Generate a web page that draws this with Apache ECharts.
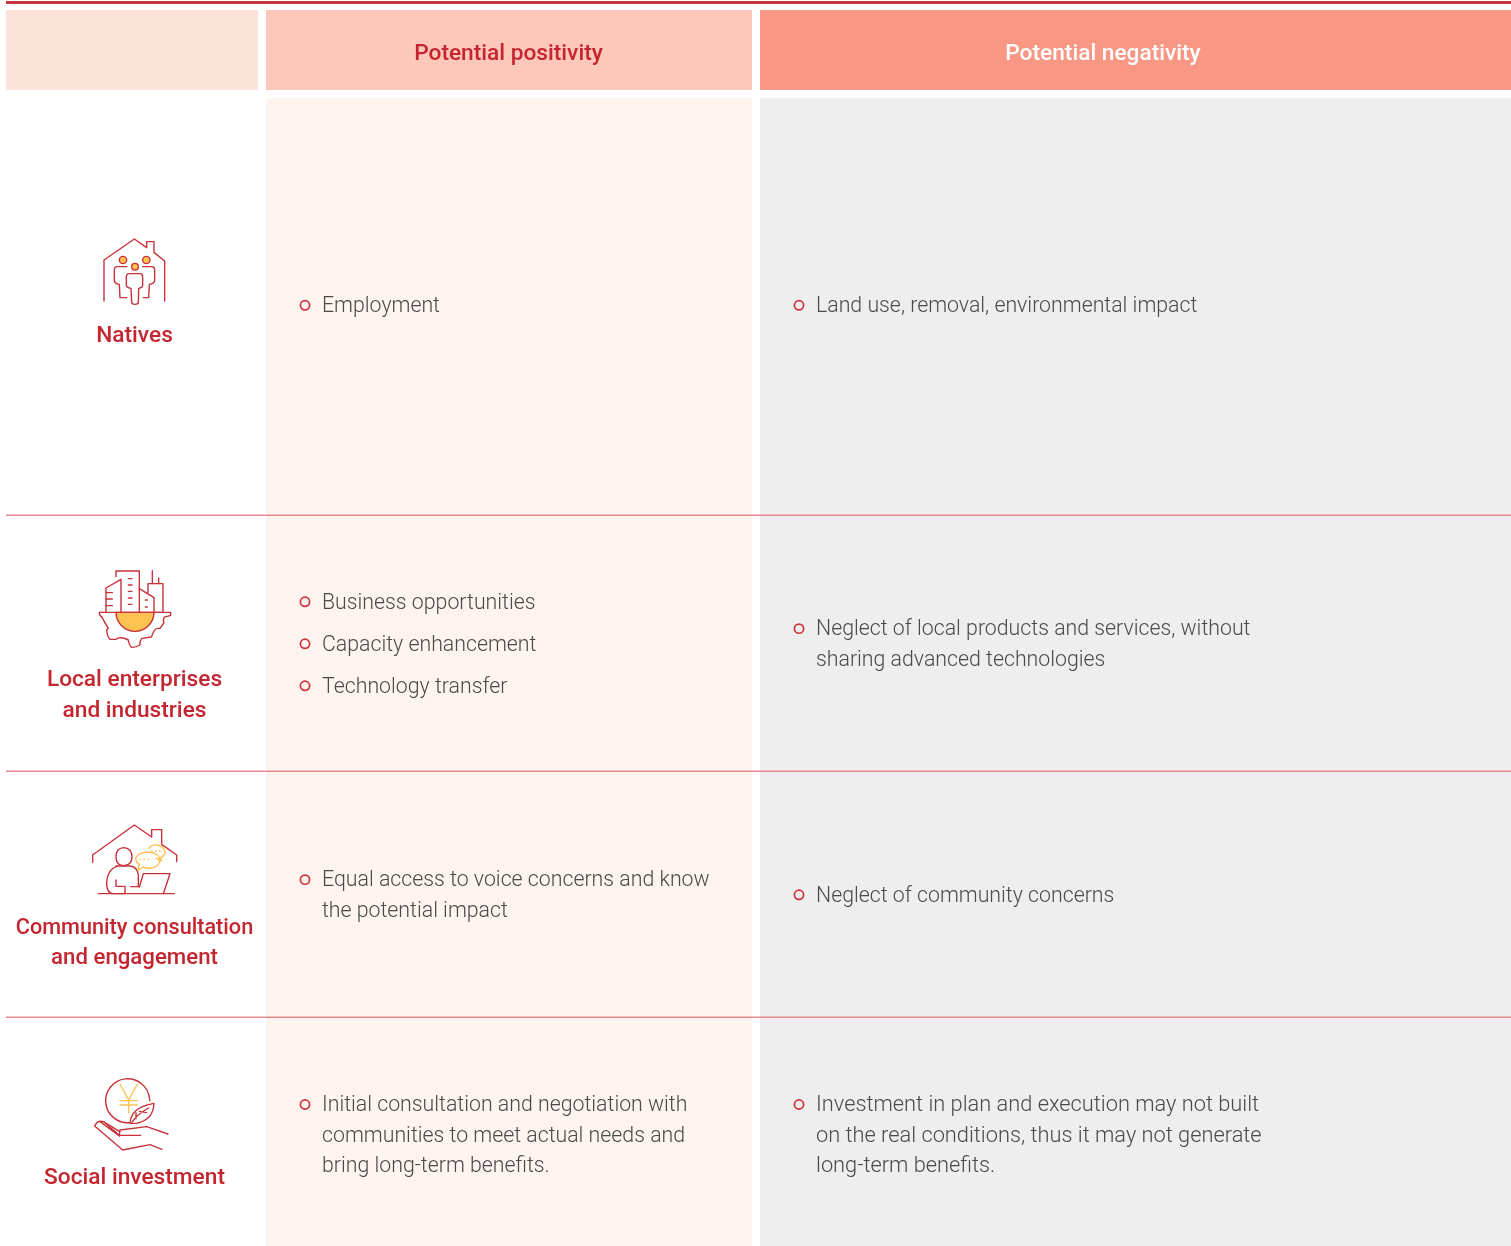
<!DOCTYPE html>
<html><head><meta charset="utf-8">
<style>html,body{margin:0;padding:0;background:#fff}#c{width:1511px;height:1246px}</style>
<script src="https://cdn.jsdelivr.net/npm/echarts@6/dist/echarts.min.js"></script>
</head><body><div id="c"></div>
<script>
const headers = ['', 'Potential positivity', 'Potential negativity'];
const groupLabels = [['Natives'], ['Local enterprises', 'and industries'], ['Community consultation', 'and engagement'], ['Social investment']];
const positivity = [
  [['Employment']],
  [['Business opportunities'], ['Capacity enhancement'], ['Technology transfer']],
  [['Equal access to voice concerns and know', 'the potential impact']],
  [['Initial consultation and negotiation with', 'communities to meet actual needs and', 'bring long-term benefits.']]
];
const negativity = [
  [['Land use, removal, environmental impact']],
  [['Neglect of local products and services, without', 'sharing advanced technologies']],
  [['Neglect of community concerns']],
  [['Investment in plan and execution may not built', 'on the real conditions, thus it may not generate', 'long-term benefits.']]
];

const RED = '#c8323a', YEL = '#fdc24f', LINE = '#e58a8e';
const rowCenters = [305, 643.5, 894.5, 1134.5];
const labelY = [[336], [680, 711], [928, 958], [1178]];
const labelScale = [[1], [1], [0.955, 0.98], [1]];
const negFont = [21.3, 21.3, 21.3, 21.8];
const rowLines = [514.4, 770.4, 1016.4];
const els = [];
const rect = (x, y, w, h, fill) => els.push({type:'rect', shape:{x, y, width:w, height:h}, style:{fill}, silent:true});
const text = (t, x, y, o, sx) => els.push({type:'text', x, y, scaleX:sx || 1, silent:true, style:Object.assign({text:t, fontFamily:'Roboto', verticalAlign:'middle'}, o)});

rect(6, 1, 1505, 3, RED);
rect(6, 10, 252, 80, '#fde2da');
rect(266, 10, 486, 80, '#fdc8ba');
rect(760, 10, 751, 80, '#f89784');
rect(266, 98, 486, 1148, '#fdf3ef');
rect(760, 98, 751, 1148, '#eeeeee');
rowLines.forEach(y => rect(6, y, 1505, 1.6, LINE));

const HF = {fontSize:22.7, fontWeight:500, align:'center'};
text(headers[1], 508.5, 54, Object.assign({fill:'#c5252f'}, HF));
text(headers[2], 1103, 54, Object.assign({fill:'#ffffff'}, HF));

groupLabels.forEach((ls, i) => ls.forEach((l, j) =>
  text(l, 134.5, labelY[i][j], {fontSize:22.7, fontWeight:500, align:'center', fill:'#c5252f'}, labelScale[i][j])));

function column(items, cx, tx, center, fontSize) {
  const LH = 30.3, GAP = 42;
  const multi = items.length > 1;
  let y = multi ? center - GAP * (items.length - 1) / 2 : center - LH * (items[0].length - 1) / 2;
  items.forEach(lines => {
    els.push({type:'circle', silent:true, shape:{cx, cy:y + 0.3, r:4.6}, style:{fill:'none', stroke:'#d0323c', lineWidth:1.7}});
    lines.forEach((l, k) => text(l, tx, y + 1.8 + k * LH, {fontSize, fontWeight:300, fill:'#4a4a4a'}));
    y += GAP;
  });
}
rowCenters.forEach((c, i) => {
  column(positivity[i], 305, 322, c, 21.3);
  column(negativity[i], 799, 816, c, negFont[i]);
});

// Icons, drawn in 3x local coordinates of a small crop box
const iconParts = [];
function icon(ox, oy, parts) {
  parts.forEach(p => iconParts.push({
    type:'path', x:ox, y:oy, scaleX:1/3, scaleY:1/3, silent:true,
    shape:{pathData:p.d},
    style:{fill:p.fill || 'none', stroke:p.stroke || RED, lineWidth:p.w || 4.2, lineJoin:'round', lineCap:'round'}
  }));
}
const circ = (cx, cy, r) => `M${cx-r} ${cy}A${r} ${r} 0 1 1 ${cx+r} ${cy}A${r} ${r} 0 1 1 ${cx-r} ${cy}Z`;
icon(80, 225, [
  {d:'M72 228V105L163 42L200 68V50H222V82L254 108V228'},
  {d:'M140 125H112Q103 125 103 135V165Q103 176 118 178L120 218H140'},
  {d:'M188 125H216Q224 125 224 135V165Q224 176 208 178L206 218H190'},
  {d:'M148 146H180Q188 146 188 156V180Q188 188 176 190L175 232Q175 238 165 238Q155 238 155 232L153 190Q139 188 139 180V156Q139 146 148 146Z'},
  {d:circ(129,105,11), fill:YEL},
  {d:circ(199,105,11), fill:YEL},
  {d:circ(165,125,10), fill:YEL}
]);
icon(80, 560, [
  {d:'M108 157A57 57 0 0 0 222 157Z', fill:YEL},
  {d:'M58 157H272V166Q262 170 255 170Q247 178 252 188L240 205L233 205Q222 207 218 222L214 231L185 235Q178 245 180 255Q170 262 155 262Q148 258 145 240Q120 228 108 238L90 238Q82 232 80 210L85 205Q75 190 65 170Q58 168 58 157Z'},
  {d:'M78 157V84L123 58V157'},
  {d:'M108 50V33H178V157'},
  {d:'M178 86L222 113V157'},
  {d:'M204 98V71H249V157H222'},
  {d:'M217 71V32M236 71V54'},
  {d:'M78 98H97M78 117H97M78 137H97M145 56H156M145 75H156M145 94H156M145 114H156M145 133H156M196 120H202M196 141H202'}
]);
icon(80, 815, [
  {d:'M38 142V120L163 30L215 66V44H245V88L290 120V140'},
  {d:'M55 236H283'},
  {d:'M130 98Q108 100 108 125Q108 150 130 152Q156 150 156 125Q156 100 130 98Z'},
  {d:'M108 153H150Q172 155 175 180V215H152M120 152Q82 158 80 205Q80 236 100 236H135V214H108V195'},
  {d:'M190 176H270L250 236M190 176L178 216'},
  {d:'M205 112A32 24 0 1 1 190 156L174 166L178 148Q160 135 172 122Q185 110 205 112Z', stroke:YEL},
  {d:'M207 100Q215 88 230 90Q252 92 255 112Q254 122 242 128L244 138L228 130', stroke:YEL},
  {d:'M180 133h2M192 133h2M204 133h2M214 108h2M226 108h2M238 108h2', stroke:YEL}
]);
icon(80, 1070, [
  {d:'M150 158A66 66 0 1 1 209 92'},
  {d:'M120 42L146 90L172 42M146 90V128M120 92H172M120 105H172', stroke:YEL},
  {d:'M150 160Q152 112 222 100Q220 150 170 160Z'},
  {d:'M156 156Q175 130 206 114M168 128V146M178 124L200 128'},
  {d:'M264 192L200 170L120 180L118 196H182M118 184L70 155Q52 150 44 168L128 240L210 224L246 238'},
  {d:'M118 196L72 156M60 155L118 198'}
]);

const chart = echarts.init(document.getElementById('c'), null, {renderer:'canvas', width:1511, height:1246});
chart.setOption({
  animation:false, backgroundColor:'#ffffff',
  graphic:{elements:els},
  series:[{
    type:'custom', coordinateSystem:'none', silent:true, z:10,
    data:[0],
    renderItem:() => ({type:'group', children:iconParts})
  }]
});
</script></body></html>
